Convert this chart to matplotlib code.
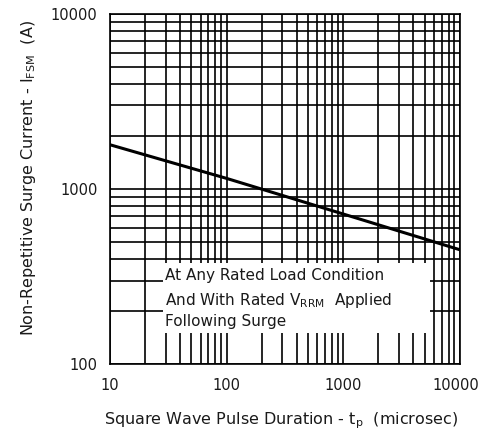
import matplotlib.pyplot as plt
import matplotlib.patches as patches
import matplotlib.transforms as mtransforms
import numpy as np

plt.rcParams['font.family'] = ['DejaVu Sans']
plt.rcParams['mathtext.fontset'] = 'custom'
plt.rcParams['mathtext.rm'] = 'DejaVu Sans'
plt.rcParams['mathtext.it'] = 'DejaVu Sans'

# pulse duration (microsec) vs surge current (A)
pulse_us = [10, 100, 1000, 10000]
surge_a = [1790, 1150, 720, 450]

x_ticks = [10, 100, 1000, 10000]
x_labels = ["10", "100", "1000", "10000"]
y_ticks = [100, 1000, 10000]
y_labels = ["100", "1000", "10000"]

TXT = "#1a1a1a"


def make_axes():
    fig = plt.figure(figsize=(4.82, 4.34), dpi=100)
    ax = fig.add_axes([0.228, 0.161, 0.726, 0.807])
    ax.set_xscale("log")
    ax.set_yscale("log")
    ax.set_xlim(10, 10000)
    ax.set_ylim(100, 10000)
    return fig, ax


def draw_grid(fig, ax):
    ax.grid(True, which="both", color="black", linewidth=1.2)
    ax.set_axisbelow(True)
    ax.tick_params(which="both", length=0, labelsize=10.5, colors=TXT)
    ax.tick_params(axis="x", pad=10)
    ax.tick_params(axis="y", pad=9)
    ax.set_xticks(x_ticks)
    ax.set_xticklabels(x_labels)
    ax.set_yticks(y_ticks)
    ax.set_yticklabels(y_labels)
    # last x label sits a bit left so it stays inside the figure
    last = ax.get_xticklabels()[-1]
    shift = mtransforms.ScaledTranslation(-4 / 100, 0, fig.dpi_scale_trans)
    last.set_transform(last.get_transform() + shift)
    for s in ax.spines.values():
        s.set_linewidth(1.2)


def add_note(ax):
    box = patches.Rectangle((0.151, 0.089), 0.763, 0.2, transform=ax.transAxes,
                            facecolor="white", edgecolor="none", zorder=2)
    ax.add_patch(box)
    lines = ["At Any Rated Load Condition",
             r"And With Rated V$_{\rm RRM}$  Applied",
             "Following Surge"]
    ys = [0.254, 0.183, 0.123]
    for t, y in zip(lines, ys):
        ax.text(0.158, y, t, transform=ax.transAxes, color=TXT,
                fontsize=11, va="center", ha="left", zorder=3)


if __name__ == '__main__':
    fig, ax = make_axes()
    draw_grid(fig, ax)
    ax.plot(pulse_us, surge_a, color="black", linewidth=2.2, zorder=4)
    add_note(ax)
    ax.set_xlabel(r"Square Wave Pulse Duration - t$_{\rm p}$  (microsec)",
                  fontsize=11.5, color=TXT)
    ax.xaxis.set_label_coords(0.489, -0.132)
    ax.set_ylabel(r"Non-Repetitive Surge Current - I$_{\rm FSM}$  (A)",
                  fontsize=11.5, color=TXT)
    ax.yaxis.set_label_coords(-0.205, 0.531)
    fig.savefig("out.png", dpi=100)
